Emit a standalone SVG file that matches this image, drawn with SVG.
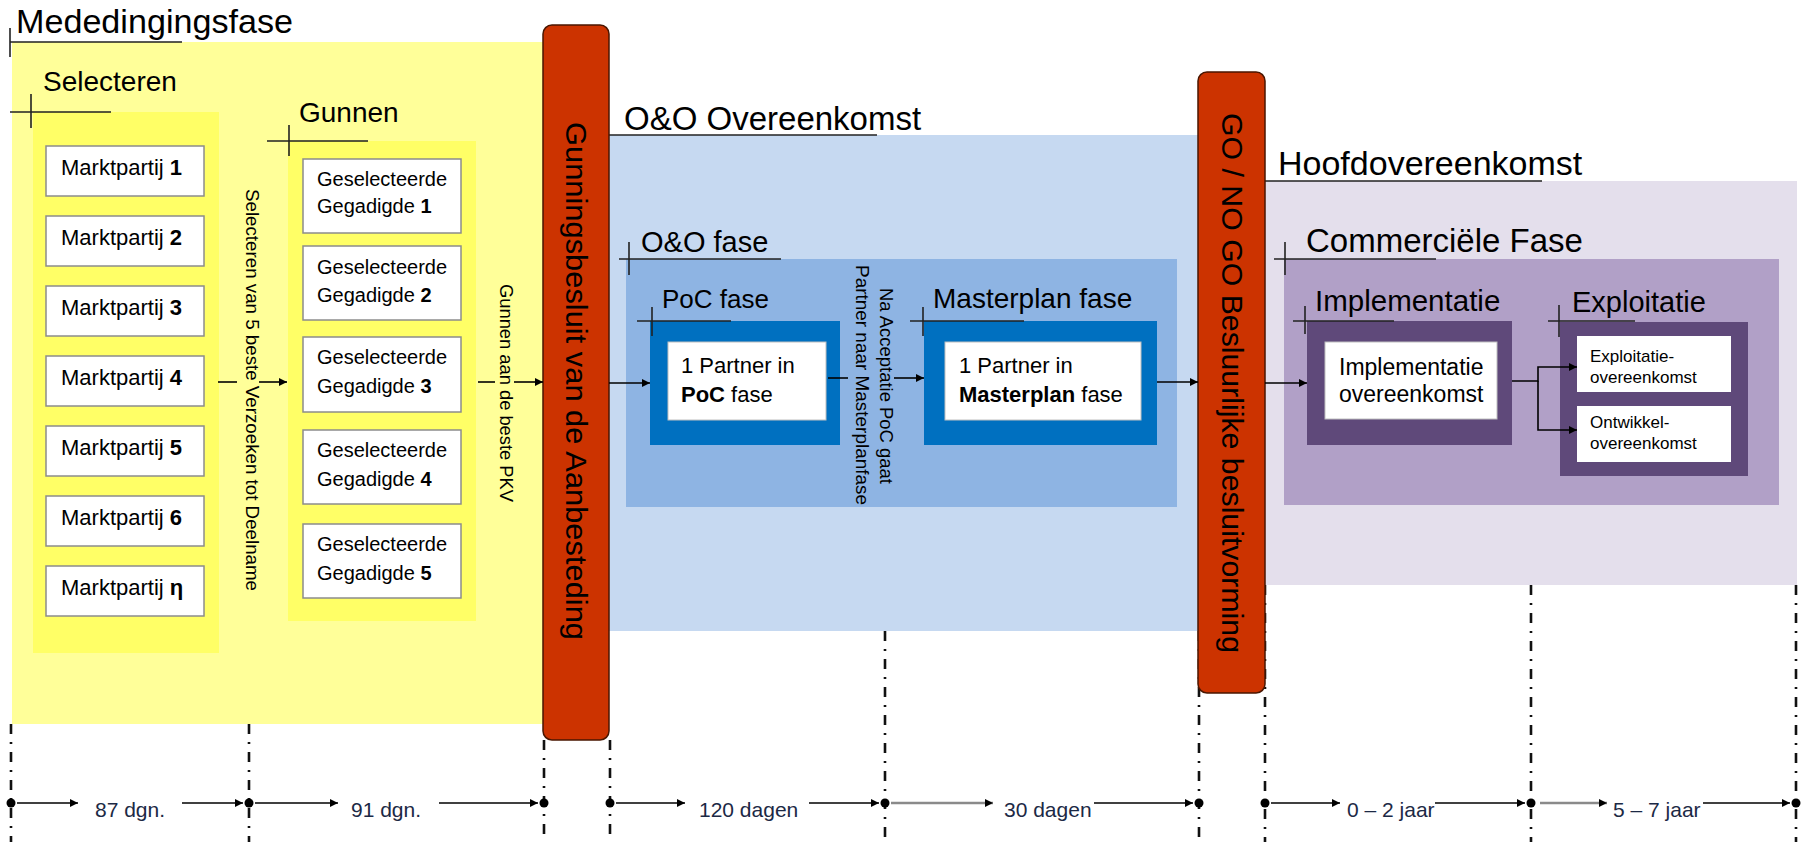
<svg xmlns="http://www.w3.org/2000/svg" width="1808" height="842" viewBox="0 0 1808 842">
<style>
text{font-family:"Liberation Sans",Arial,sans-serif;fill:#000}
.h{font-size:28px}
.box{fill:#fff;stroke:#8c8c8c;stroke-width:1.5}
.wbox{fill:#fff;stroke:#bfbfbf;stroke-width:1}
.cross{stroke:#222;stroke-width:1.6;fill:none}
.conn{stroke:#000;stroke-width:1.6;fill:none}
.conng{stroke:#8a8a8a;stroke-width:2.4;fill:none}
.dash{stroke:#111;stroke-width:2.6;stroke-dasharray:10 8 2 8;fill:none}
.bar{fill:#CC3300;stroke:#4a1600;stroke-width:1.5}
.mp{font-size:22px}
.gs{font-size:20px}
.tl{font-size:21px;fill:#1c2945}
.b{font-weight:bold}
.vt{font-size:19px}
</style>
<defs>
<marker id="ah" viewBox="0 0 10 10" refX="10" refY="5" markerWidth="10" markerHeight="8" markerUnits="userSpaceOnUse" orient="auto"><path d="M0,0 L10,5 L0,10 z" fill="#000"/></marker>
<marker id="ahg" viewBox="0 0 10 10" refX="10" refY="5" markerWidth="10" markerHeight="8" markerUnits="userSpaceOnUse" orient="auto"><path d="M0,0 L10,5 L0,10 z" fill="#000"/></marker>
</defs>
<rect width="1808" height="842" fill="#fff"/>

<!-- Mededingingsfase -->
<g id="mededingingsfase">
<rect x="12" y="42" width="536" height="682" fill="#FFFF99"/>
<text x="16" y="33" font-size="33" textLength="277" lengthAdjust="spacingAndGlyphs">Mededingingsfase</text>
<path class="cross" d="M10,42 H182 M10,28 V57"/>
</g>

<g id="selecteren">
<rect x="33" y="112" width="186" height="541" fill="#FFFF66"/>
<text x="43" y="91" font-size="28">Selecteren</text>
<path class="cross" d="M10,112 H111 M31,94 V128"/>
</g>
<g id="marktpartij-1"><rect class="box" x="46" y="146" width="158" height="50"/><text class="mp" x="61" y="175">Marktpartij <tspan class="b">1</tspan></text></g>
<g id="marktpartij-2"><rect class="box" x="46" y="216" width="158" height="50"/><text class="mp" x="61" y="245">Marktpartij <tspan class="b">2</tspan></text></g>
<g id="marktpartij-3"><rect class="box" x="46" y="286" width="158" height="50"/><text class="mp" x="61" y="315">Marktpartij <tspan class="b">3</tspan></text></g>
<g id="marktpartij-4"><rect class="box" x="46" y="356" width="158" height="50"/><text class="mp" x="61" y="385">Marktpartij <tspan class="b">4</tspan></text></g>
<g id="marktpartij-5"><rect class="box" x="46" y="426" width="158" height="50"/><text class="mp" x="61" y="455">Marktpartij <tspan class="b">5</tspan></text></g>
<g id="marktpartij-6"><rect class="box" x="46" y="496" width="158" height="50"/><text class="mp" x="61" y="525">Marktpartij <tspan class="b">6</tspan></text></g>
<g id="marktpartij-n"><rect class="box" x="46" y="566" width="158" height="50"/><text class="mp" x="61" y="595">Marktpartij <tspan class="b">η</tspan></text></g>

<g id="gunnen">
<rect x="288" y="141" width="188" height="480" fill="#FFFF66"/>
<text x="299" y="122" font-size="28">Gunnen</text>
<path class="cross" d="M267,141 H368 M289,125 V156"/>
</g>
<g id="gegadigde-1"><rect class="box" x="303" y="159" width="158" height="74"/><text class="gs" x="317" y="186">Geselecteerde</text><text class="gs" x="317" y="213">Gegadigde <tspan class="b">1</tspan></text></g>
<g id="gegadigde-2"><rect class="box" x="303" y="246" width="158" height="74"/><text class="gs" x="317" y="274">Geselecteerde</text><text class="gs" x="317" y="302">Gegadigde <tspan class="b">2</tspan></text></g>
<g id="gegadigde-3"><rect class="box" x="303" y="337" width="158" height="75"/><text class="gs" x="317" y="364">Geselecteerde</text><text class="gs" x="317" y="393">Gegadigde <tspan class="b">3</tspan></text></g>
<g id="gegadigde-4"><rect class="box" x="303" y="430" width="158" height="74"/><text class="gs" x="317" y="457">Geselecteerde</text><text class="gs" x="317" y="486">Gegadigde <tspan class="b">4</tspan></text></g>
<g id="gegadigde-5"><rect class="box" x="303" y="524" width="158" height="74"/><text class="gs" x="317" y="551">Geselecteerde</text><text class="gs" x="317" y="580">Gegadigde <tspan class="b">5</tspan></text></g>

<!-- O&O Overeenkomst -->
<g id="oo-overeenkomst">
<rect x="609" y="135" width="590" height="496" fill="#C6D9F1"/>
<text x="624" y="130" font-size="33">O&amp;O Overeenkomst</text>
<path class="cross" d="M609,135 H877"/>
</g>
<g id="oo-fase">
<rect x="626" y="259" width="551" height="248" fill="#8EB4E3"/>
<text x="641" y="252" font-size="29">O&amp;O fase</text>
<path class="cross" d="M619,259 H781 M629,242 V275"/>
</g>
<g id="poc-fase">
<rect x="650" y="321" width="190" height="124" fill="#0070C0"/>
<text x="662" y="308" font-size="26">PoC fase</text>
<path class="cross" d="M637,321 H731 M652,307 V336"/>
<rect class="wbox" x="668" y="342" width="158" height="78"/>
<text class="mp" x="681" y="373">1 Partner in</text>
<text class="mp" x="681" y="402"><tspan class="b">PoC</tspan> fase</text>
</g>
<g id="masterplan-fase">
<rect x="924" y="321" width="233" height="124" fill="#0070C0"/>
<text x="933" y="308" font-size="28">Masterplan fase</text>
<path class="cross" d="M910,321 H1024 M923,307 V336"/>
<rect class="wbox" x="945" y="342" width="196" height="78"/>
<text class="mp" x="959" y="373">1 Partner in</text>
<text class="mp" x="959" y="402"><tspan class="b">Masterplan</tspan> fase</text>
</g>

<!-- Hoofdovereenkomst -->
<g id="hoofdovereenkomst">
<rect x="1265" y="181" width="532" height="404" fill="#E4DFEC"/>
<text x="1278" y="175" font-size="34">Hoofdovereenkomst</text>
<path class="cross" d="M1265,181 H1542"/>
</g>
<g id="commerciele-fase">
<rect x="1284" y="259" width="495" height="246" fill="#B1A0C7"/>
<text x="1306" y="252" font-size="33">Commerciële Fase</text>
<path class="cross" d="M1274,259 H1436 M1285,242 V275"/>
</g>
<g id="implementatie">
<rect x="1307" y="321" width="205" height="124" fill="#5F497A"/>
<text x="1315" y="311" font-size="29.5">Implementatie</text>
<path class="cross" d="M1293,321 H1394 M1305,306 V334"/>
<rect class="wbox" x="1325" y="342" width="172" height="77"/>
<text x="1339" y="375" font-size="23" fill="#222">Implementatie</text>
<text x="1339" y="402" font-size="23" fill="#222">overeenkomst</text>
</g>
<g id="exploitatie">
<rect x="1560" y="322" width="188" height="154" fill="#5F497A"/>
<text x="1572" y="312" font-size="29">Exploitatie</text>
<path class="cross" d="M1548,321 H1635 M1559,305 V337"/>
<rect x="1577" y="336" width="154" height="56" fill="#fff"/>
<text x="1590" y="362" font-size="17">Exploitatie-</text>
<text x="1590" y="383" font-size="17">overeenkomst</text>
<rect x="1577" y="406" width="154" height="56" fill="#fff"/>
<text x="1590" y="428" font-size="17">Ontwikkel-</text>
<text x="1590" y="449" font-size="17">overeenkomst</text>
</g>

<!-- timeline dividers -->
<g id="timeline-lines">
<path class="dash" d="M11,724 V842 M249,724 V842 M544,740 V842 M610,740 V842 M885,631 V842 M1199,631 V842 M1265,585 V842 M1531,585 V842 M1796,585 V842"/>
</g>

<!-- decision bars -->
<g id="gunningsbesluit">
<rect class="bar" x="543" y="25" width="66" height="715" rx="9"/>
<text transform="translate(576,381) rotate(90)" text-anchor="middle" dominant-baseline="central" font-size="30" textLength="518" lengthAdjust="spacingAndGlyphs">Gunningsbesluit van de Aanbesteding</text>
</g>
<g id="go-no-go">
<rect class="bar" x="1198" y="72" width="67" height="621" rx="9"/>
<text transform="translate(1232,383) rotate(90)" text-anchor="middle" dominant-baseline="central" font-size="30" textLength="540" lengthAdjust="spacingAndGlyphs">GO / NO GO Besluurlijke besluitvorming</text>
</g>

<!-- connectors -->
<g id="connectors">
<path class="conn" d="M218,382 H237"/>
<path class="conn" d="M259,382 H287" marker-end="url(#ah)"/>
<text class="vt" transform="translate(252,390) rotate(90)" text-anchor="middle" dominant-baseline="central" textLength="402" lengthAdjust="spacingAndGlyphs">Selecteren van 5 beste Verzoeken tot Deelname</text>
<path class="conn" d="M478,382 H495"/>
<path class="conn" d="M514,382 H543" marker-end="url(#ah)"/>
<text transform="translate(506,393) rotate(90)" text-anchor="middle" dominant-baseline="central" font-size="18.5" textLength="218" lengthAdjust="spacingAndGlyphs">Gunnen aan de beste PKV</text>
<path class="conn" d="M609,383 H650" marker-end="url(#ah)"/>
<path class="conn" d="M828,378 H848"/>
<path class="conn" d="M894,378 H924" marker-end="url(#ah)"/>
<text transform="translate(886,386) rotate(90)" text-anchor="middle" dominant-baseline="central" font-size="18" textLength="196" lengthAdjust="spacingAndGlyphs">Na Acceptatie PoC gaat</text>
<text transform="translate(862,385) rotate(90)" text-anchor="middle" dominant-baseline="central" font-size="18" textLength="240" lengthAdjust="spacingAndGlyphs">Partner naar Masterplanfase</text>
<path class="conn" d="M1157,382 H1198" marker-end="url(#ah)"/>
<path class="conn" d="M1265,383 H1307" marker-end="url(#ah)"/>
<path class="conn" d="M1512,381 H1538 V367 H1577" marker-end="url(#ah)"/>
<path class="conn" d="M1538,381 V430 H1577" marker-end="url(#ah)"/>
</g>

<!-- timeline -->
<g id="timeline">
<g fill="#000">
<circle cx="11" cy="803" r="4.5"/><circle cx="249" cy="803" r="4.5"/><circle cx="544" cy="803" r="4.5"/><circle cx="610" cy="803" r="4.5"/><circle cx="885" cy="803" r="4.5"/><circle cx="1199" cy="803" r="4.5"/><circle cx="1265" cy="803" r="4.5"/><circle cx="1531" cy="803" r="4.5"/><circle cx="1796" cy="803" r="4.5"/>
</g>
<path class="conn" d="M17,803 H78" marker-end="url(#ah)"/>
<text class="tl" x="95" y="817">87 dgn.</text>
<path class="conn" d="M182,803 H243" marker-end="url(#ah)"/>
<path class="conn" d="M255,803 H338" marker-end="url(#ah)"/>
<text class="tl" x="351" y="817">91 dgn.</text>
<path class="conn" d="M439,803 H538" marker-end="url(#ah)"/>
<path class="conn" d="M616,803 H685" marker-end="url(#ah)"/>
<text class="tl" x="699" y="817">120 dagen</text>
<path class="conn" d="M809,803 H879" marker-end="url(#ah)"/>
<path class="conng" d="M891,803 H993" marker-end="url(#ahg)"/>
<text class="tl" x="1004" y="817">30 dagen</text>
<path class="conn" d="M1094,803 H1193" marker-end="url(#ah)"/>
<path class="conn" d="M1271,803 H1340" marker-end="url(#ah)"/>
<text class="tl" x="1347" y="817">0 – 2 jaar</text>
<path class="conn" d="M1435,803 H1525" marker-end="url(#ah)"/>
<path class="conng" d="M1540,803 H1607" marker-end="url(#ahg)"/>
<text class="tl" x="1613" y="817">5 – 7 jaar</text>
<path class="conn" d="M1703,803 H1790" marker-end="url(#ah)"/>
</g>
</svg>
